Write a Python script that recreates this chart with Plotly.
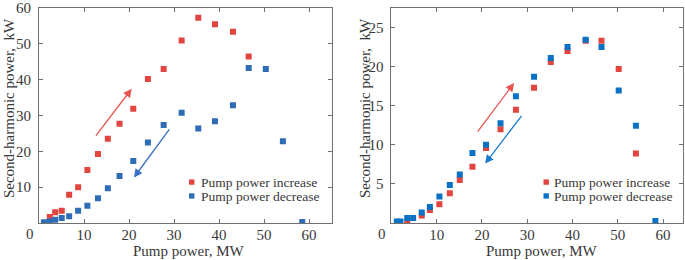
import plotly.graph_objects as go

# Left panel data
left_inc_x = [2.4, 3.6, 5.05, 6.7, 8.7, 10.75, 13.1, 15.3, 17.9, 20.95, 24.2, 27.7, 31.7, 35.4, 39.1, 43.1, 46.6]
left_inc_y = [1.7, 3.0, 3.4, 7.9, 10.0, 14.8, 19.3, 23.5, 27.7, 31.9, 40.2, 43.0, 51.0, 57.3, 55.5, 53.4, 46.5]
left_dec_x = [1.1, 2.4, 3.6, 5.05, 6.7, 8.7, 10.75, 13.1, 15.3, 17.9, 20.95, 24.2, 27.7, 31.7, 35.4, 39.1, 43.1, 46.6, 50.4, 54.2, 58.5]
left_dec_y = [0.2, 0.5, 0.9, 1.4, 1.9, 3.4, 4.8, 6.9, 9.7, 13.1, 17.3, 22.5, 27.4, 30.8, 26.4, 28.4, 32.9, 43.3, 43.0, 22.8, 0.3]

# Right panel data
right_inc_x = [3.5, 6.7, 8.5, 10.6, 12.9, 15.1, 17.9, 20.9, 24.1, 27.5, 31.5, 35.2, 38.9, 42.9, 46.4, 50.2, 54.0]
right_inc_y = [0.2, 0.95, 1.65, 2.4, 3.8, 5.5, 7.2, 9.6, 12.0, 14.5, 17.3, 20.6, 22.0, 23.3, 23.3, 19.7, 8.9]
right_dec_x = [1.2, 2.0, 3.5, 4.8, 6.7, 8.5, 10.6, 12.9, 15.1, 17.9, 20.9, 24.1, 27.5, 31.5, 35.2, 38.9, 42.9, 46.4, 50.2, 54.0, 58.3]
right_dec_y = [0.2, 0.2, 0.65, 0.65, 1.35, 2.05, 3.4, 4.85, 6.2, 8.95, 10.0, 12.75, 16.2, 18.7, 21.1, 22.5, 23.45, 22.5, 16.95, 12.45, 0.25]

x_ticks = [10, 20, 30, 40, 50, 60]
left_y_ticks = [10, 20, 30, 40, 50, 60]
right_y_ticks = [5, 10, 15, 20, 25]

series_names = ["Pump power increase", "Pump power decrease"]
x_title = "Pump power, MW"
y_title = "Second-harmonic power,  kW"

RED = "#e2443f"
BLUE_L = "#2f6cb6"
BLUE_R = "#0a72c4"
FONT = "Liberation Serif, Times New Roman, Times, serif"
TXT = "#383838"
AX = "#707070"
W, H = 685, 260

fig = go.Figure()
fig.add_trace(go.Scatter(x=left_inc_x, y=left_inc_y, mode="markers", name=series_names[0],
                         marker=dict(symbol="square", size=6, color=RED), xaxis="x", yaxis="y"))
fig.add_trace(go.Scatter(x=left_dec_x, y=left_dec_y, mode="markers", name=series_names[1],
                         marker=dict(symbol="square", size=6, color=BLUE_L), xaxis="x", yaxis="y"))
fig.add_trace(go.Scatter(x=right_inc_x, y=right_inc_y, mode="markers", name=series_names[0],
                         marker=dict(symbol="square", size=6, color=RED), xaxis="x2", yaxis="y2"))
fig.add_trace(go.Scatter(x=right_dec_x, y=right_dec_y, mode="markers", name=series_names[1],
                         marker=dict(symbol="square", size=6, color=BLUE_R), xaxis="x2", yaxis="y2"))

axis_common = dict(showline=True, linecolor=AX, linewidth=1, mirror="ticks", ticks="inside",
                   ticklen=4, tickcolor=AX, showgrid=False, zeroline=False,
                   ticklabeloverflow="allow",
                   tickfont=dict(family=FONT, size=15, color=TXT))

fig.update_layout(
    width=W, height=H,
    margin=dict(l=0, r=0, t=6, b=37),
    plot_bgcolor="white", paper_bgcolor="white",
    font=dict(family=FONT, size=15, color=TXT),
    showlegend=False,
    xaxis=dict(domain=[39 / W, 331.5 / W], range=[0, 65], tickvals=x_ticks, anchor="y",
               ticklabelstandoff=-2, **axis_common),
    yaxis=dict(domain=[0, 1], range=[0, 60.05], tickvals=left_y_ticks, anchor="x",
               ticklabelstandoff=4, **axis_common),
    xaxis2=dict(domain=[391.4 / W, 683 / W], range=[0, 64.4], tickvals=x_ticks, anchor="y2",
                ticklabelstandoff=-2, **axis_common),
    yaxis2=dict(domain=[0, 1], range=[0, 27.5], tickvals=right_y_ticks, anchor="x2",
                ticklabelstandoff=4, **axis_common),
)


def px(x):
    return x / W


def py(y):
    return 1 - (y - 6) / (H - 6 - 37)


# axis titles
for cx in (188, 541.7):
    fig.add_annotation(text=x_title, xref="paper", yref="paper", x=px(cx), y=py(251.5),
                       xanchor="center", yanchor="middle", showarrow=False,
                       font=dict(family=FONT, size=15, color=TXT))
for cx in (9, 365):
    fig.add_annotation(text=y_title, xref="paper", yref="paper", x=px(cx), y=py(107),
                       xanchor="center", yanchor="middle", textangle=-90, showarrow=False,
                       font=dict(family=FONT, size=15, color=TXT))

# corner "0" labels
for cx in (29.5, 381.7):
    fig.add_annotation(text="0", xref="paper", yref="paper", x=px(cx), y=py(234),
                       xanchor="center", yanchor="middle", showarrow=False,
                       font=dict(family=FONT, size=15, color=TXT))

# legends (marker squares + text)
legend_specs = [(191.7, 199, [RED, BLUE_L]), (546.2, 552, [RED, BLUE_R])]
for mx, tx, cols in legend_specs:
    for i, (name, col) in enumerate(zip(series_names, cols)):
        ly = 181.7 + i * 14
        fig.add_shape(type="rect", xref="paper", yref="paper",
                      x0=px(mx - 2.7), x1=px(mx + 2.7), y0=py(ly + 2.7), y1=py(ly - 2.7),
                      fillcolor=col, line=dict(width=0))
        fig.add_annotation(text=name, xref="paper", yref="paper", x=px(tx), y=py(ly + 0.5),
                           xanchor="left", yanchor="middle", showarrow=False,
                           font=dict(family=FONT, size=13.5, color=TXT))

# arrows
arrows = [
    ("x", "y", 12.4, 24.0, 20.6, 37.5, "#e8554f"),
    ("x", "y", 29.2, 26.6, 21.1, 12.7, "#3a6fc4"),
    ("x2", "y2", 18.8, 11.5, 27.1, 17.9, "#e8554f"),
    ("x2", "y2", 29.0, 13.9, 20.7, 7.6, "#1a78cc"),
]
for xr, yr, x0, y0, x1, y1, c in arrows:
    fig.add_annotation(x=x1, y=y1, ax=x0, ay=y0, xref=xr, yref=yr, axref=xr, ayref=yr,
                       showarrow=True, arrowhead=2, arrowsize=1.3, arrowwidth=1.3, arrowcolor=c, text="")

fig.write_html("out.html", config={"displayModeBar": False},
               post_script="document.body.style.margin='0';document.body.style.overflow='hidden';")
